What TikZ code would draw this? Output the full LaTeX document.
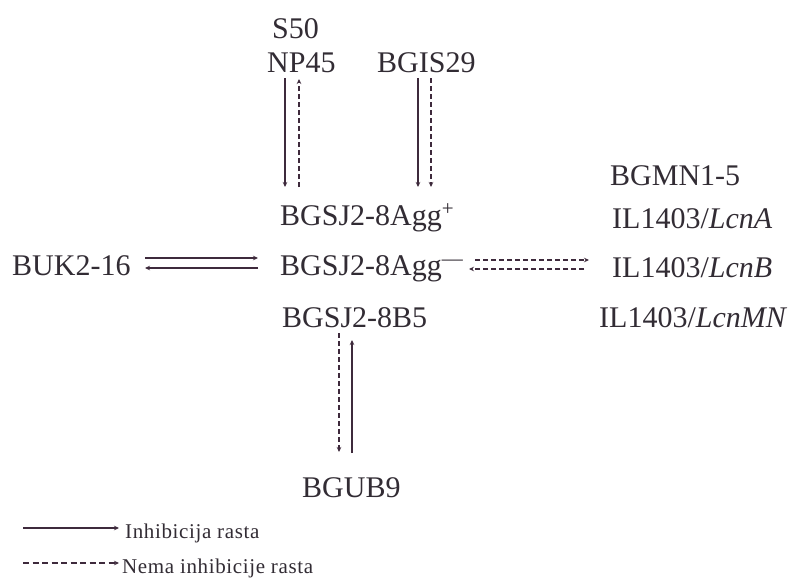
\documentclass[tikz,border=0pt]{standalone}
\usepackage{fontspec}
\setmainfont{Liberation Serif}
\usetikzlibrary{arrows.meta}
\definecolor{ink}{RGB}{50,44,52}
\definecolor{wire}{RGB}{62,42,60}
\begin{document}
\begin{tikzpicture}[x=1pt,y=-1pt,
  lbl/.style={anchor=base west,inner sep=0pt,text=ink,font=\fontsize{30}{34}\selectfont},
  leg/.style={anchor=base west,inner sep=0pt,text=ink,font=\fontsize{21}{24}\selectfont\addfontfeature{LetterSpace=3}},
  tip/.style={-{Stealth[length=5pt,width=4.5pt]}},
  inh/.style={tip,draw=wire,line width=1.7pt},
  noinh/.style={tip,draw=wire,line width=1.7pt,dash pattern=on 5pt off 3pt},
  heavy/.style={line width=2.6pt}]
\path[use as bounding box,fill=white] (0,0) rectangle (791,578);

% strain labels
\node[lbl] (s50)   at (272,39)  {S50};
\node[lbl] (np45)  at (267,72)  {NP45};
\node[lbl] (bgis)  at (377,72)  {BGIS29};
\node[lbl] (aggp)  at (280,225) {BGSJ2-8Agg\textsuperscript{+}};
\node[lbl] (aggm)  at (280,275) {BGSJ2-8Agg\textsuperscript{—}};
\node[lbl] (b5)    at (282,327) {BGSJ2-8B5};
\node[lbl] (buk)   at (12,275)  {BUK2-16};
\node[lbl] (bgmn)  at (610,185) {BGMN1-5};
\node[lbl] (lcna)  at (612,228) {IL1403/\textit{LcnA}};
\node[lbl] (lcnb)  at (612,277) {IL1403/\textit{LcnB}};
\node[lbl] (lcnmn) at (599,327) {IL1403/\textit{LcnMN}};
\node[lbl] (bgub)  at (302,497) {BGUB9};

% connector end points
\coordinate (npA) at (285,78);  \coordinate (npB) at (285,187);
\coordinate (npC) at (299,187); \coordinate (npD) at (299,79);
\coordinate (isA) at (418,78);  \coordinate (isB) at (418,187);
\coordinate (isC) at (431,78);  \coordinate (isD) at (431,187);
\coordinate (ukA) at (145,258); \coordinate (ukB) at (258,258);
\coordinate (ukC) at (258,268); \coordinate (ukD) at (145,268);
\coordinate (lcA) at (475,260); \coordinate (lcB) at (589,260);
\coordinate (lcC) at (584,269); \coordinate (lcD) at (469,269);
\coordinate (ubA) at (339,333); \coordinate (ubB) at (339,452);
\coordinate (ubC) at (352,453); \coordinate (ubD) at (352,340);

% interactions
\draw[inh]   (npA) -- (npB);
\draw[noinh] (npC) -- (npD);
\draw[inh]   (isA) -- (isB);
\draw[noinh,line width=2.2pt] (isC) -- (isD);
\draw[inh,heavy] (ukA) -- (ukB);
\draw[inh,heavy] (ukC) -- (ukD);
\draw[noinh,heavy] (lcA) -- (lcB);
\draw[noinh,heavy] (lcC) -- (lcD);
\draw[noinh] (ubA) -- (ubB);
\draw[inh]   (ubC) -- (ubD);

% legend
\node[leg] (leg1) at (125,538) {Inhibicija rasta};
\node[leg] (leg2) at (122,573) {Nema inhibicije rasta};
\coordinate (lgA) at (23,528); \coordinate (lgB) at (119,528);
\coordinate (lgC) at (23,563); \coordinate (lgD) at (119,563);
\draw[inh,line width=2pt]   (lgA) -- (lgB);
\draw[noinh,line width=2.2pt,dash pattern=on 6pt off 3.5pt] (lgC) -- (lgD);
\end{tikzpicture}
\end{document}
